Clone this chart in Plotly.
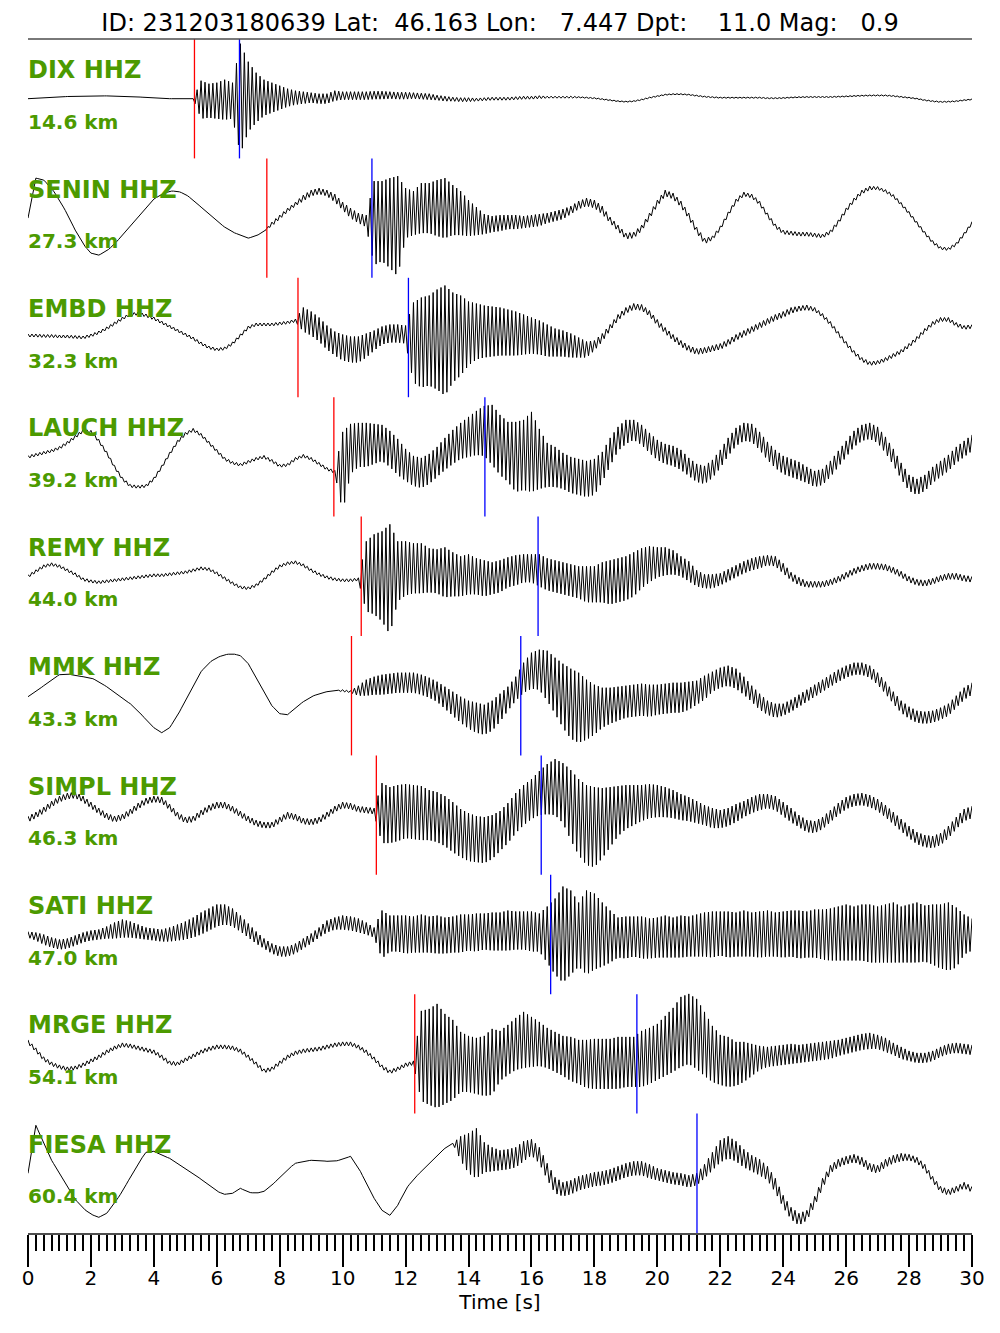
import plotly.graph_objects as go

# ---------------- event / station metadata ----------------
EVENT_ID = "231203180639"
LAT, LON, DEPTH, MAG = 46.163, 7.447, 11.0, 0.9
STATIONS = ["DIX", "SENIN", "EMBD", "LAUCH", "REMY", "MMK", "SIMPL", "SATI", "MRGE", "FIESA"]
CHANNEL = "HHZ"
DIST_KM = [14.6, 27.3, 32.3, 39.2, 44.0, 43.3, 46.3, 47.0, 54.1, 60.4]
P_PICK = [5.29, 7.59, 8.58, 9.72, 10.59, 10.28, 11.07, None, 12.29, None]
S_PICK = [6.72, 10.93, 12.09, 14.52, 16.21, 15.66, 16.31, 16.61, 19.35, 21.26]

DT = 0.25          # sample spacing of the read-off values [s]
X_TICKS_MAJOR = 2
X_TICKS_MINOR = 0.25

# ---------------- waveform values ----------------
# *_C : trace centre (normalised amplitude), *_H : half-width of the high-frequency band
DIX_C = [0, 0.3, 0.7, 1.2, 1.7, 2.2, 2.5, 2.7, 2.8, 2.8, 2.8, 2.7, 2.5, 2.2, 1.8, 1.2,
         0.7, 0.3, 0, 0, 0, 0, -1, -2, -2, -1, -2, 0, 2, 1, 1, 1,
         1, 1, 1, 1, 1, 0, 0, 3, 3, 3, 3, 3, 3.5, 3.5, 3.5, 3,
         3, 3, 2.5, 2, 1, 0, -0.5, -1, -1, -1, -0.5, 0, 0, 0, 0.5, 1,
         1, 1.5, 1.5, 1.5, 1.5, 1.5, 1.5, 1, 0.5, -0.5, -1.5, -2.5, -3, -2.5, -1, 1,
         2.5, 4, 4.5, 4.5, 4, 3, 2, 1.5, 1, 1, 1, 1, 1, 1, 0.5, 0.5,
         0.7, 1.2, 1.5, 1.7, 1.7, 1.7, 1.7, 2, 2.3, 2.7, 3, 3.2, 3.3, 3.2, 2.7, 1.8,
         1, 0, -1.5, -2.5, -3.2, -3, -2.5, -1.5, -0.7]
DIX_H = [0, 0, 0, 0, 0, 0, 0, 0, 0, 0, 0, 0, 0, 0, 0, 0,
         0, 0, 0, 0, 0, 0, 19, 17, 18, 20, 18, 55, 35, 25, 18, 15,
         12, 9, 7, 6, 5, 5, 5, 5, 4, 4, 4, 4, 4, 4, 3.5, 3.5,
         3.5, 3, 3, 3, 2.5, 2.5, 2, 2, 2, 1.5, 1.5, 1.5, 1.5, 1.5, 1.5, 1.5,
         1.5, 1.5, 1, 1, 1, 1, 0.5, 0.5, 0.5, 0.5, 0.5, 0.5, 0.5, 0.5, 0.5, 0.5,
         0.5, 0.5, 0.5, 0.5, 0.5, 0.5, 0.5, 0.5, 0.5, 0.5, 0.5, 0.5, 0.5, 0.5, 0.5, 0.5,
         0.5, 0.5, 0.5, 0.5, 0.5, 0.5, 0.5, 0.5, 0.5, 0.5, 0.5, 0.5, 0.5, 0.5, 0.5, 0.5,
         0.5, 0.5, 0.5, 0.5, 0.5, 0.5, 0.5, 0.5, 0.5]

SENIN_C = [0, 40, 38, 30, 18, 4, -12, -26, -35, -37, -33, -26, -17, -8, 2, 11,
           19, 24, 27, 27, 24, 18, 11, 4, -3, -9, -14, -17, -20, -18, -13, -6,
           1, 8, 14, 20, 25, 27, 25, 20, 12, 5, 0, -3, -5, -3, -5, -8,
           5, 5, 10, 10, 10, 10, 8, 5, 0, -3, -6, -6, -5, -4, -4, -4,
           -3, -2, 0, 2, 4, 8, 13, 16, 14, 8, -2, -10, -18, -17, -10, 2,
           15, 25, 22, 14, 2, -12, -23, -20, -10, 4, 17, 24, 22, 15, 3, -8,
           -14, -15, -16, -16, -17, -18, -14, -4, 8, 18, 26, 30, 30, 27, 22, 14,
           5, -5, -15, -24, -30, -31, -26, -16, -5]
SENIN_H = [0, 0, 0, 0, 0, 0, 0, 0, 0, 0, 0, 0, 0, 0, 0, 0,
           0, 0, 0, 0, 0, 0, 0, 0, 0, 0, 0, 0, 0, 0, 0, 2,
           2, 2, 2, 3, 3, 3, 3, 4, 4, 5, 5, 6, 42, 40, 45, 50,
           25, 22, 25, 25, 28, 30, 25, 22, 18, 14, 10, 8, 8, 7, 7, 6,
           6, 6, 5, 5, 5, 4, 4, 4, 4, 4, 3, 3, 3, 3, 3, 3,
           3, 3, 3, 3, 3, 3, 3, 2, 2, 2, 2, 2, 2, 2, 2, 2,
           2, 2, 2, 2, 2, 2, 2, 2, 2, 2, 2, 2, 1.5, 1.5, 1.5, 1.5,
           1.5, 1.5, 1.5, 1.5, 1.5, 1.5, 1.5, 1.5, 1.5]

EMBD_C = [2, 2, 1.5, 1.5, 1, 1, 0.5, 0, 2, 5, 9, 14, 19, 23, 24, 22,
          19, 15, 11, 7, 3, -1, -6, -10, -12, -11, -6, 2, 10, 13, 13, 13,
          14, 15, 17, 18, 14, 8, 0, -6, -10, -12, -12, -8, -3, 2, 4, 4,
          3, -5, -5, -3, -2, -3, 0, 2, 4, 6, 6, 6, 6, 5, 4, 3,
          2, 0, -3, -5, -6, -8, -10, -12, -8, 0, 10, 20, 27, 31, 30, 24,
          15, 7, 0, -6, -11, -14, -13, -11, -9, -5, 0, 4, 8, 12, 16, 20,
          23, 27, 29, 30, 28, 22, 14, 4, -6, -15, -22, -26, -25, -22, -18, -14,
          -8, -1, 7, 14, 18, 18, 13, 10, 11]
EMBD_H = [1.5, 1.5, 1.5, 1.5, 1.5, 1.5, 1.5, 1.5, 1.5, 1.5, 1.5, 1.5, 1.5, 1.5, 1.5, 1.5,
          1.5, 1.5, 1.5, 1.5, 1.5, 1.5, 1.5, 1.5, 1.5, 1.5, 1.5, 1.5, 1.5, 1.5, 1.5, 1.5,
          1.5, 1.5, 1.5, 12, 12, 12, 12, 12, 13, 13, 13, 12, 10, 9, 9, 9,
          9, 40, 45, 45, 50, 55, 45, 40, 32, 28, 26, 25, 24, 23, 22, 20,
          18, 17, 16, 14, 13, 12, 10, 8, 5, 4, 3, 3, 3, 3, 3, 3,
          3, 3, 3, 3, 3, 3, 3, 3, 3, 3, 3, 3, 3, 3, 3, 3,
          3, 3, 2.5, 2.5, 2, 2, 2, 2, 2, 2, 2, 2, 2, 2, 2, 2,
          2, 2, 2, 2, 2, 2, 2, 2, 2]

LAUCH_C = [0, 2, 4, 6, 9, 14, 20, 26, 25, 16, 4, -10, -22, -29, -30, -29,
           -22, -10, 3, 15, 23, 27, 22, 14, 6, -2, -6, -8, -5, -2, 0, -4,
           -9, -8, -2, 1, -2, -7, -12, -15, -15, 8, 12, 12, 13, 14, 8, 0,
           -8, -14, -16, -12, -5, 3, 10, 16, 20, 24, 26, 22, 12, 5, 0, 2,
           5, -2, -8, -10, -14, -18, -20, -22, -20, -10, 5, 18, 25, 27, 22, 14,
           7, 3, 1, -3, -10, -16, -18, -12, -2, 10, 20, 25, 24, 16, 6, -2,
           -8, -11, -14, -18, -22, -20, -12, -2, 8, 18, 24, 26, 22, 12, 0, -14,
           -26, -30, -26, -18, -12, -6, 2, 8, 14]
LAUCH_H = [1.5, 1.5, 1.5, 1.5, 1.5, 1.5, 1.5, 1.5, 1.5, 1.5, 1.5, 1.5, 1.5, 1.5, 1.5, 1.5,
           1.5, 1.5, 1.5, 1.5, 1.5, 1.5, 1.5, 1.5, 1.5, 1.5, 1.5, 1.5, 1.5, 1.5, 1.5, 1.5,
           1.5, 1.5, 1.5, 1.5, 1.5, 1.5, 1.5, 1.5, 40, 25, 22, 22, 20, 18, 18, 18,
           16, 15, 15, 15, 15, 16, 17, 18, 20, 22, 25, 30, 30, 30, 35, 35,
           40, 30, 22, 20, 18, 18, 18, 18, 18, 15, 14, 12, 12, 10, 10, 10,
           10, 10, 10, 10, 9, 9, 9, 9, 9, 9, 9, 9, 9, 9, 9, 9,
           9, 9, 9, 8, 8, 8, 8, 8, 8, 8, 8, 8, 8, 8, 8, 8,
           8, 8, 8, 8, 8, 8, 8, 8, 8]

REMY_C = [0, 5, 10, 12, 10, 6, 2, -3, -5, -6, -5, -4, -3, -2, -1, 0,
          1, 1, 2, 3, 4, 6, 8, 7, 3, -2, -7, -11, -12, -9, -3, 4,
          10, 13, 14, 11, 6, 2, -1, -3, -4, -4, -3, 0, 2, 0, -3, 5,
          8, 8, 8, 6, 5, 4, 2, 0, 2, 0, -2, -2, 0, 4, 6, 8,
          8, 6, 2, 0, -2, -4, -6, -8, -8, -6, -6, -4, -2, 2, 8, 12,
          14, 15, 14, 10, 5, -2, -5, -5, -3, 1, 5, 9, 12, 14, 16, 15,
          8, 0, -5, -8, -8, -8, -6, -3, 1, 5, 8, 10, 10, 9, 6, 2,
          -3, -6, -7, -5, -2, 0, 0, -2, -3]
REMY_H = [1.5, 1.5, 1.5, 1.5, 1.5, 1.5, 1.5, 1.5, 1.5, 1.5, 1.5, 1.5, 1.5, 1.5, 1.5, 1.5,
          1.5, 1.5, 1.5, 1.5, 1.5, 1.5, 1.5, 1.5, 1.5, 1.5, 1.5, 1.5, 1.5, 1.5, 1.5, 1.5,
          1.5, 1.5, 1.5, 1.5, 1.5, 1.5, 1.5, 1.5, 1.5, 1.5, 1.5, 35, 40, 45, 55, 30,
          27, 25, 25, 22, 22, 25, 22, 20, 20, 18, 18, 16, 16, 15, 15, 14,
          14, 16, 16, 16, 16, 16, 16, 18, 18, 20, 22, 22, 22, 22, 20, 18,
          15, 14, 12, 10, 10, 8, 7, 7, 6, 6, 6, 6, 6, 6, 5, 5,
          5, 4, 4, 3, 3, 3, 3, 3, 3, 3, 3, 3, 3, 3, 3, 3,
          3, 3, 3, 3, 3, 3, 3, 3, 3]

MMK_C = [-1, 4, 10, 16, 21, 22, 20, 19, 18, 14, 9, 3, -3, -8, -15, -24,
         -32, -37, -32, -20, -5, 10, 24, 33, 38, 41, 42, 40, 32, 18, 3, -10,
         -18, -19, -12, -6, -1, 2, 4, 5, 5, 4, 5, 8, 10, 11, 12, 13,
         13, 13, 11, 8, 4, -2, -8, -14, -19, -22, -24, -20, -12, -3, 7, 18,
         25, 26, 20, 10, 0, -8, -12, -14, -14, -12, -10, -8, -6, -5, -4, -5,
         -4, -3, -2, -2, 0, 3, 8, 14, 18, 20, 17, 10, 2, -6, -12, -15,
         -14, -10, -5, 0, 5, 10, 15, 20, 24, 27, 27, 24, 17, 8, -2, -11,
         -17, -21, -22, -21, -18, -14, -6, 2, 7]
MMK_H = [0, 0, 0, 0, 0, 0, 0, 0, 0, 0, 0, 0, 0, 0, 0, 0,
         0, 0, 0, 0, 0, 0, 0, 0, 0, 0, 0, 0, 0, 0, 0, 0,
         0, 0, 0, 0, 0, 0, 0, 0, 1, 1, 5, 8, 9, 10, 10, 10,
         10, 10, 10, 10, 10, 11, 12, 13, 14, 15, 15, 15, 14, 12, 12, 15,
         18, 20, 25, 28, 32, 35, 35, 30, 25, 20, 18, 17, 16, 16, 16, 16,
         15, 15, 15, 15, 14, 12, 12, 10, 10, 10, 10, 9, 8, 8, 7, 7,
         6, 6, 6, 6, 6, 6, 6, 6, 6, 6, 6, 6, 6, 6, 6, 6,
         6, 6, 6, 6, 6, 6, 6, 6, 6]

SIMPL_C = [-4, 0, 5, 11, 16, 19, 20, 16, 10, 4, -1, -4, -2, 3, 9, 14,
           16, 15, 8, 0, -5, -4, 2, 7, 10, 10, 6, 1, -4, -8, -10, -10,
           -5, 0, -2, -6, -7, -5, 0, 6, 10, 9, 6, 5, 4, 2, 0, 2,
           4, 3, 2, 0, -2, -6, -12, -18, -22, -24, -25, -22, -16, -8, 2, 10,
           16, 22, 26, 28, 22, 10, -2, -10, -12, -8, -2, 4, 8, 10, 12, 14,
           14, 13, 11, 8, 6, 3, 0, -3, -4, -2, 2, 6, 10, 13, 14, 12,
           6, 0, -6, -11, -12, -8, -1, 6, 12, 15, 16, 14, 10, 4, -3, -10,
           -17, -23, -26, -27, -24, -17, -8, 0, 3]
SIMPL_H = [3, 3, 3, 3, 3, 3, 3, 3, 3, 3, 3, 3, 3, 3, 3, 3,
           3, 3, 3, 3, 3, 3, 3, 3, 3, 3, 3, 3, 3, 3, 3, 3,
           3, 3, 3, 3, 3, 3, 3, 3, 3, 3, 3, 3, 3, 30, 28, 28,
           27, 27, 27, 25, 25, 25, 25, 24, 24, 23, 23, 22, 20, 20, 20, 20,
           20, 22, 25, 28, 30, 35, 38, 40, 40, 35, 30, 25, 22, 20, 18, 17,
           16, 15, 14, 13, 12, 11, 10, 10, 9, 9, 9, 8, 8, 8, 7, 7,
           7, 7, 6, 6, 6, 6, 6, 6, 6, 6, 6, 6, 6, 6, 6, 6,
           6, 6, 6, 6, 6, 6, 6, 6, 6]

SATI_C = [0, -2, -5, -8, -10, -9, -6, -3, -1, 0, 2, 4, 6, 5, 3, 1,
          0, -1, 0, 2, 4, 7, 11, 15, 19, 20, 17, 11, 4, -3, -9, -14,
          -17, -17, -14, -9, -4, 2, 8, 11, 12, 11, 9, 6, 2, 0, 1, 1,
          0, 0, 1, 0, 0, -1, 0, 1, 2, 2, 3, 3, 3, 4, 4, 4,
          3, 2, 0, -2, 0, 2, 0, 2, 3, 0, -2, -3, -3, -2, -3, -4,
          -3, -2, -3, -2, -2, -1, 0, 0, 1, 0, 0, 1, 0, 0, 1, 0,
          0, 1, 0, 0, 1, 0, 0, 1, 2, 1, 2, 1, 0, 1, 2, 0,
          1, 2, 1, 0, -2, -2, -3, 0, 0]
SATI_H = [3, 4, 5, 5, 5, 5, 5, 5, 5, 5, 6, 8, 9, 8, 7, 6,
          6, 6, 7, 8, 9, 10, 11, 11, 11, 10, 9, 8, 7, 6, 5, 5,
          5, 5, 5, 5, 5, 5, 6, 6, 7, 7, 7, 6, 5, 24, 18, 18,
          19, 18, 19, 18, 19, 18, 18, 19, 18, 19, 18, 19, 19, 20, 19, 19,
          20, 19, 28, 38, 48, 42, 32, 42, 38, 32, 26, 20, 21, 20, 21, 20,
          20, 21, 20, 21, 20, 21, 22, 23, 22, 23, 22, 23, 22, 23, 23, 22,
          23, 23, 24, 23, 24, 25, 26, 27, 28, 27, 28, 29, 28, 29, 30, 28,
          29, 30, 28, 30, 32, 34, 30, 20, 16]

MRGE_C = [12, 4, -5, -10, -13, -15, -14, -11, -7, -3, 2, 6, 9, 8, 6, 4,
          2, -3, -9, -10, -6, -2, 2, 5, 7, 7, 6, 3, -3, -10, -17, -15,
          -9, -3, 1, 3, 4, 5, 7, 9, 10, 10, 7, 2, -5, -13, -18, -15,
          -11, -9, -2, -3, -2, -5, -6, -8, -10, -12, -12, -8, -2, 4, 10, 14,
          12, 10, 6, 2, -2, -5, -8, -10, -10, -10, -10, -9, -8, -8, -5, -2,
          2, 8, 14, 22, 25, 20, 10, 0, -6, -8, -10, -8, -6, -4, -3, -2,
          -1, 0, 0, 1, 2, 3, 4, 6, 8, 10, 12, 13, 12, 9, 5, 1,
          -2, -4, -4, -2, 2, 5, 6, 5, 4]
MRGE_H = [2, 2, 2, 2, 2, 2, 2, 2, 2, 2, 2, 2, 2, 2, 2, 2,
          2, 2, 2, 2, 2, 2, 2, 2, 2, 2, 2, 2, 2, 2, 2, 2,
          2, 2, 2, 2, 2, 2, 2, 2, 2, 2, 2, 2, 2, 2, 2, 2,
          2, 2, 45, 48, 52, 45, 40, 30, 28, 28, 30, 33, 25, 25, 26, 28,
          25, 22, 20, 20, 20, 22, 22, 24, 25, 25, 25, 26, 25, 25, 28, 28,
          28, 30, 32, 35, 35, 35, 32, 28, 25, 25, 22, 20, 16, 12, 10, 10,
          10, 10, 9, 9, 9, 9, 9, 8, 8, 8, 8, 8, 7, 7, 6, 6,
          5, 5, 5, 5, 5, 5, 5, 5, 5]

FIESA_C = [0, 48, 30, 13, 0, -14, -26, -35, -41, -44, -40, -30, -18, -4, 10, 21,
           22, 18, 15, 10, 5, 0, -6, -12, -18, -21, -20, -15, -19, -20, -18, -12,
           -4, 4, 10, 12, 13, 13, 12, 12, 14, 17, 6, -10, -25, -37, -42, -32,
           -16, -6, 2, 10, 18, 25, 30, 25, 20, 20, 16, 14, 13, 14, 16, 22,
           26, 18, 2, -12, -16, -14, -10, -8, -6, -5, -3, 0, 3, 5, 5, 2,
           -1, -3, -5, -6, -8, -6, 2, 12, 22, 26, 22, 15, 10, 6, 0, -12,
           -28, -40, -46, -42, -28, -10, 4, 10, 13, 15, 12, 6, 4, 10, 14, 16,
           16, 13, 6, -6, -16, -19, -16, -12, -16]
FIESA_H = [0, 0, 0, 0, 0, 0, 0, 0, 0, 0, 0, 0, 0, 0, 0, 0,
           0, 0, 0, 0, 0, 0, 0, 0, 0, 0, 0, 0, 0, 0, 0, 0,
           0, 0, 0, 0, 0, 0, 0, 0, 0, 0, 0, 0, 0, 0, 0, 0,
           0, 0, 0, 0, 0, 0, 0, 12, 20, 25, 15, 12, 10, 10, 10, 10,
           8, 8, 8, 8, 7, 7, 7, 7, 7, 7, 7, 7, 7, 7, 7, 7,
           6, 6, 6, 6, 6, 6, 7, 9, 11, 11, 10, 9, 8, 8, 7, 7,
           6, 6, 6, 5, 5, 5, 4, 4, 4, 4, 4, 4, 4, 4, 4, 4,
           3, 3, 3, 3, 3, 3, 3, 3, 3]

CENTRES = [DIX_C, SENIN_C, EMBD_C, LAUCH_C, REMY_C, MMK_C, SIMPL_C, SATI_C, MRGE_C, FIESA_C]
HALFWIDTHS = [DIX_H, SENIN_H, EMBD_H, LAUCH_H, REMY_H, MMK_H, SIMPL_H, SATI_H, MRGE_H, FIESA_H]

# ---------------- styling ----------------
SPACING = 119.4            # vertical trace spacing in amplitude units
LABEL_GREEN = "#4c9a00"
FONT = "DejaVu Sans"
STROKES = 4                # zig-zag strokes drawn per read-off interval (rendering only)

# page body has an 8px margin: the figure is sized/placed to compensate
FIG_W, FIG_H = 992, 1325


def envelope_path(c, h, offset):
    """Zig-zag between the read-off upper (c+h) and lower (c-h) envelopes."""
    xs, ys = [], []
    n = len(c)
    idx = 0
    for k in range(n - 1):
        for j in range(STROKES):
            f = j / STROKES
            cc = c[k] + (c[k + 1] - c[k]) * f
            hh = h[k] + (h[k + 1] - h[k]) * f
            sign = 1 if idx % 2 == 0 else -1
            xs.append(k * DT + f * DT)
            ys.append(offset + cc + sign * hh)
            idx += 1
    xs.append((n - 1) * DT)
    ys.append(offset + c[-1] + (1 if idx % 2 == 0 else -1) * h[-1])
    return xs, ys


fig = go.Figure()
shapes = []
annotations = []

for i, name in enumerate(STATIONS):
    off = -i * SPACING
    xs, ys = envelope_path(CENTRES[i], HALFWIDTHS[i], off)
    fig.add_trace(go.Scatter(x=xs, y=ys, mode="lines",
                             line=dict(color="black", width=1),
                             hoverinfo="skip", showlegend=False))
    for pick, col in ((P_PICK[i], "#ff0000"), (S_PICK[i], "#0000ff")):
        if pick is None:
            continue
        shapes.append(dict(type="line", xref="x", yref="y",
                           x0=pick, x1=pick,
                           y0=off - SPACING / 2, y1=off + SPACING / 2,
                           line=dict(color=col, width=1.3), layer="above"))
    annotations.append(dict(x=0, xref="paper", xanchor="left", xshift=-2,
                            y=off + 28.5, yref="y", yanchor="middle",
                            text=f"{name} {CHANNEL}", showarrow=False,
                            font=dict(family=FONT, size=24, color=LABEL_GREEN, weight="bold")))
    annotations.append(dict(x=0, xref="paper", xanchor="left", xshift=-2,
                            y=off - 23, yref="y", yanchor="middle",
                            text=f"{DIST_KM[i]:.1f} km", showarrow=False,
                            font=dict(family=FONT, size=20, color=LABEL_GREEN, weight="bold")))

# horizontal rule under the title
shapes.append(dict(type="line", xref="paper", yref="paper", x0=0, x1=1, y0=1, y1=1,
                   line=dict(color="#4d4d4d", width=1.6)))

title_txt = (f"ID: {EVENT_ID} Lat: {LAT:7.3f} Lon: {LON:7.3f} "
             f"Dpt: {DEPTH:7.1f} Mag: {MAG:5.1f}").replace(" ", "\u00a0")

fig.update_layout(
    width=FIG_W, height=FIG_H,
    paper_bgcolor="white", plot_bgcolor="white",
    margin=dict(l=20, r=28, t=31, b=100),
    title=dict(text=title_txt, x=492 / FIG_W, xanchor="center", y=1 - 15 / FIG_H, yanchor="middle",
               font=dict(family=FONT, size=24, color="black")),
    xaxis=dict(range=[0, 30], showgrid=False, zeroline=False,
               showline=True, linecolor="#4d4d4d", linewidth=1.6,
               ticks="outside", ticklen=32, tickwidth=2, tickcolor="black",
               tick0=0, dtick=X_TICKS_MAJOR,
               tickfont=dict(family=FONT, size=20, color="black"),
               ticklabelstandoff=-6,
               minor=dict(ticks="outside", ticklen=16, tickwidth=2, tickcolor="black",
                          tick0=0, dtick=X_TICKS_MINOR, showgrid=False),
               title=dict(text="Time [s]", font=dict(family=FONT, size=20, color="black"),
                          standoff=2),
               fixedrange=True),
    yaxis=dict(visible=False, range=[-9.5 * SPACING, 0.5 * SPACING], fixedrange=True),
    shapes=shapes,
    annotations=annotations,
    hovermode=False,
    showlegend=False,
)

fig.write_html("out.html", config={"displayModeBar": False})
